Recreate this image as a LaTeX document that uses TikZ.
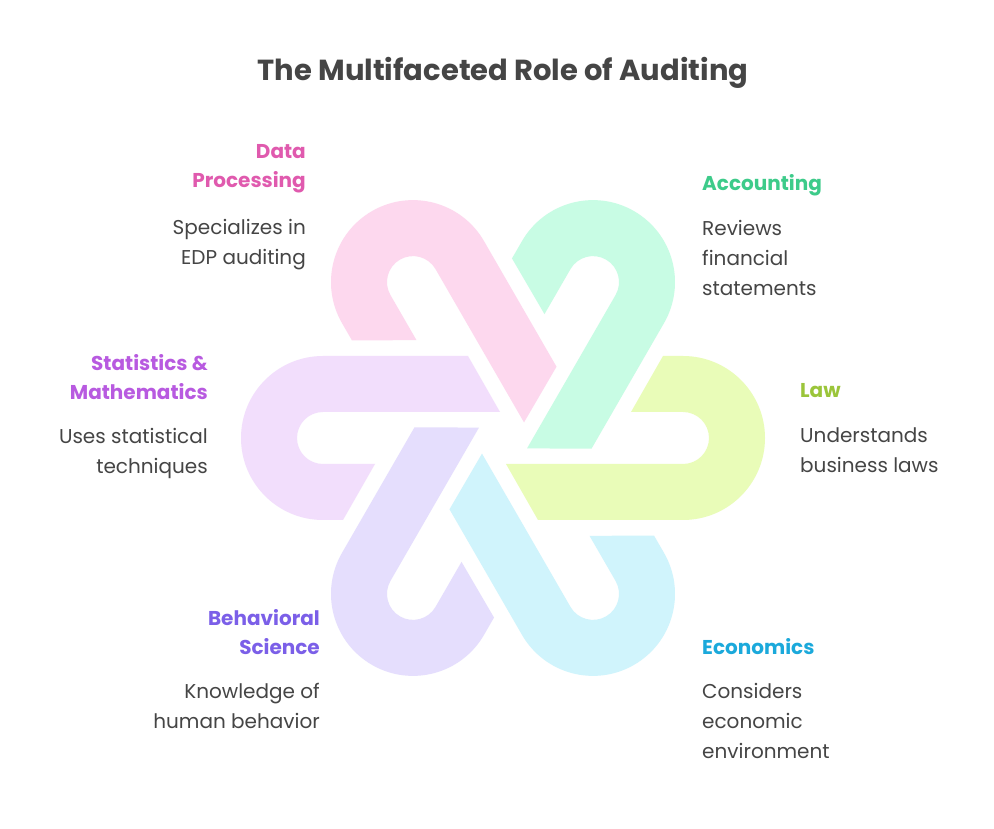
\documentclass[tikz,border=0pt]{standalone}
\usepackage{fontspec}
\setmainfont{Poppins}
\definecolor{tx}{HTML}{454545}
\definecolor{cLaw}{HTML}{E9FCB8}\definecolor{tLaw}{HTML}{9BC53A}
\definecolor{cAcc}{HTML}{C8FCE4}\definecolor{tAcc}{HTML}{3DCB8A}
\definecolor{cDat}{HTML}{FDD8EE}\definecolor{tDat}{HTML}{E05AAE}
\definecolor{cSta}{HTML}{F2DEFC}\definecolor{tSta}{HTML}{B85AE0}
\definecolor{cBeh}{HTML}{E5DEFD}\definecolor{tBeh}{HTML}{7B5FE8}
\definecolor{cEco}{HTML}{D0F4FC}\definecolor{tEco}{HTML}{1BA9DB}
\tikzset{
  hd/.style={font=\fontsize{20}{29}\selectfont\bfseries, inner sep=0pt},
  ds/.style={font=\fontsize{20}{30}\selectfont, text=tx, inner sep=0pt},
  lft/.style={anchor=north east, align=right},
  rgt/.style={anchor=north west, align=left},
}
\newcommand{\hook}[2]{%
  \fill[#2, rotate=#1] (3,26) -- (180,26) arc[start angle=90,end angle=-90,radius=26]
    -- (128,-26) -- (160,-82) -- (180,-82) arc[start angle=-90,end angle=90,radius=82]
    -- (35,82) -- cycle;}
\begin{document}
\begin{tikzpicture}[x=1pt,y=1pt]
\useasboundingbox (0,0) rectangle (994,828);
\fill[white] (0,0) rectangle (994,828);
\begin{scope}[shift={(503,390)}, yscale=-1]
\hook{0}{cLaw}
\hook{-60}{cAcc}
\hook{-120}{cDat}
\hook{180}{cSta}
\hook{120}{cBeh}
\hook{60}{cEco}
\end{scope}
\node[font=\fontsize{29}{32}\selectfont\bfseries, text=tx] (title) at (503,755) {The Multifaceted Role of Auditing};
\node[hd, lft, text=tDat] (dat) at (306,684) {Data\\Processing};
\node[ds, lft] (datd) at (306,609) {Specializes in\\EDP auditing};
\node[hd, rgt, text=tAcc] (acc) at (702,654) {Accounting};
\node[ds, rgt] (accd) at (702,608) {Reviews\\financial\\statements};
\node[hd, lft, text=tSta] (sta) at (208,474) {Statistics \&\\Mathematics};
\node[ds, lft] (stad) at (208,400) {Uses statistical\\techniques};
\node[hd, rgt, text=tLaw] (law) at (800,445) {Law};
\node[ds, rgt] (lawd) at (800,400) {Understands\\business laws};
\node[hd, lft, text=tBeh] (beh) at (320,219) {Behavioral\\Science};
\node[ds, lft] (behd) at (320,145) {Knowledge of\\human behavior};
\node[hd, rgt, text=tEco] (eco) at (702,190) {Economics};
\node[ds, rgt] (ecod) at (702,145) {Considers\\economic\\environment};
\end{tikzpicture}
\end{document}
